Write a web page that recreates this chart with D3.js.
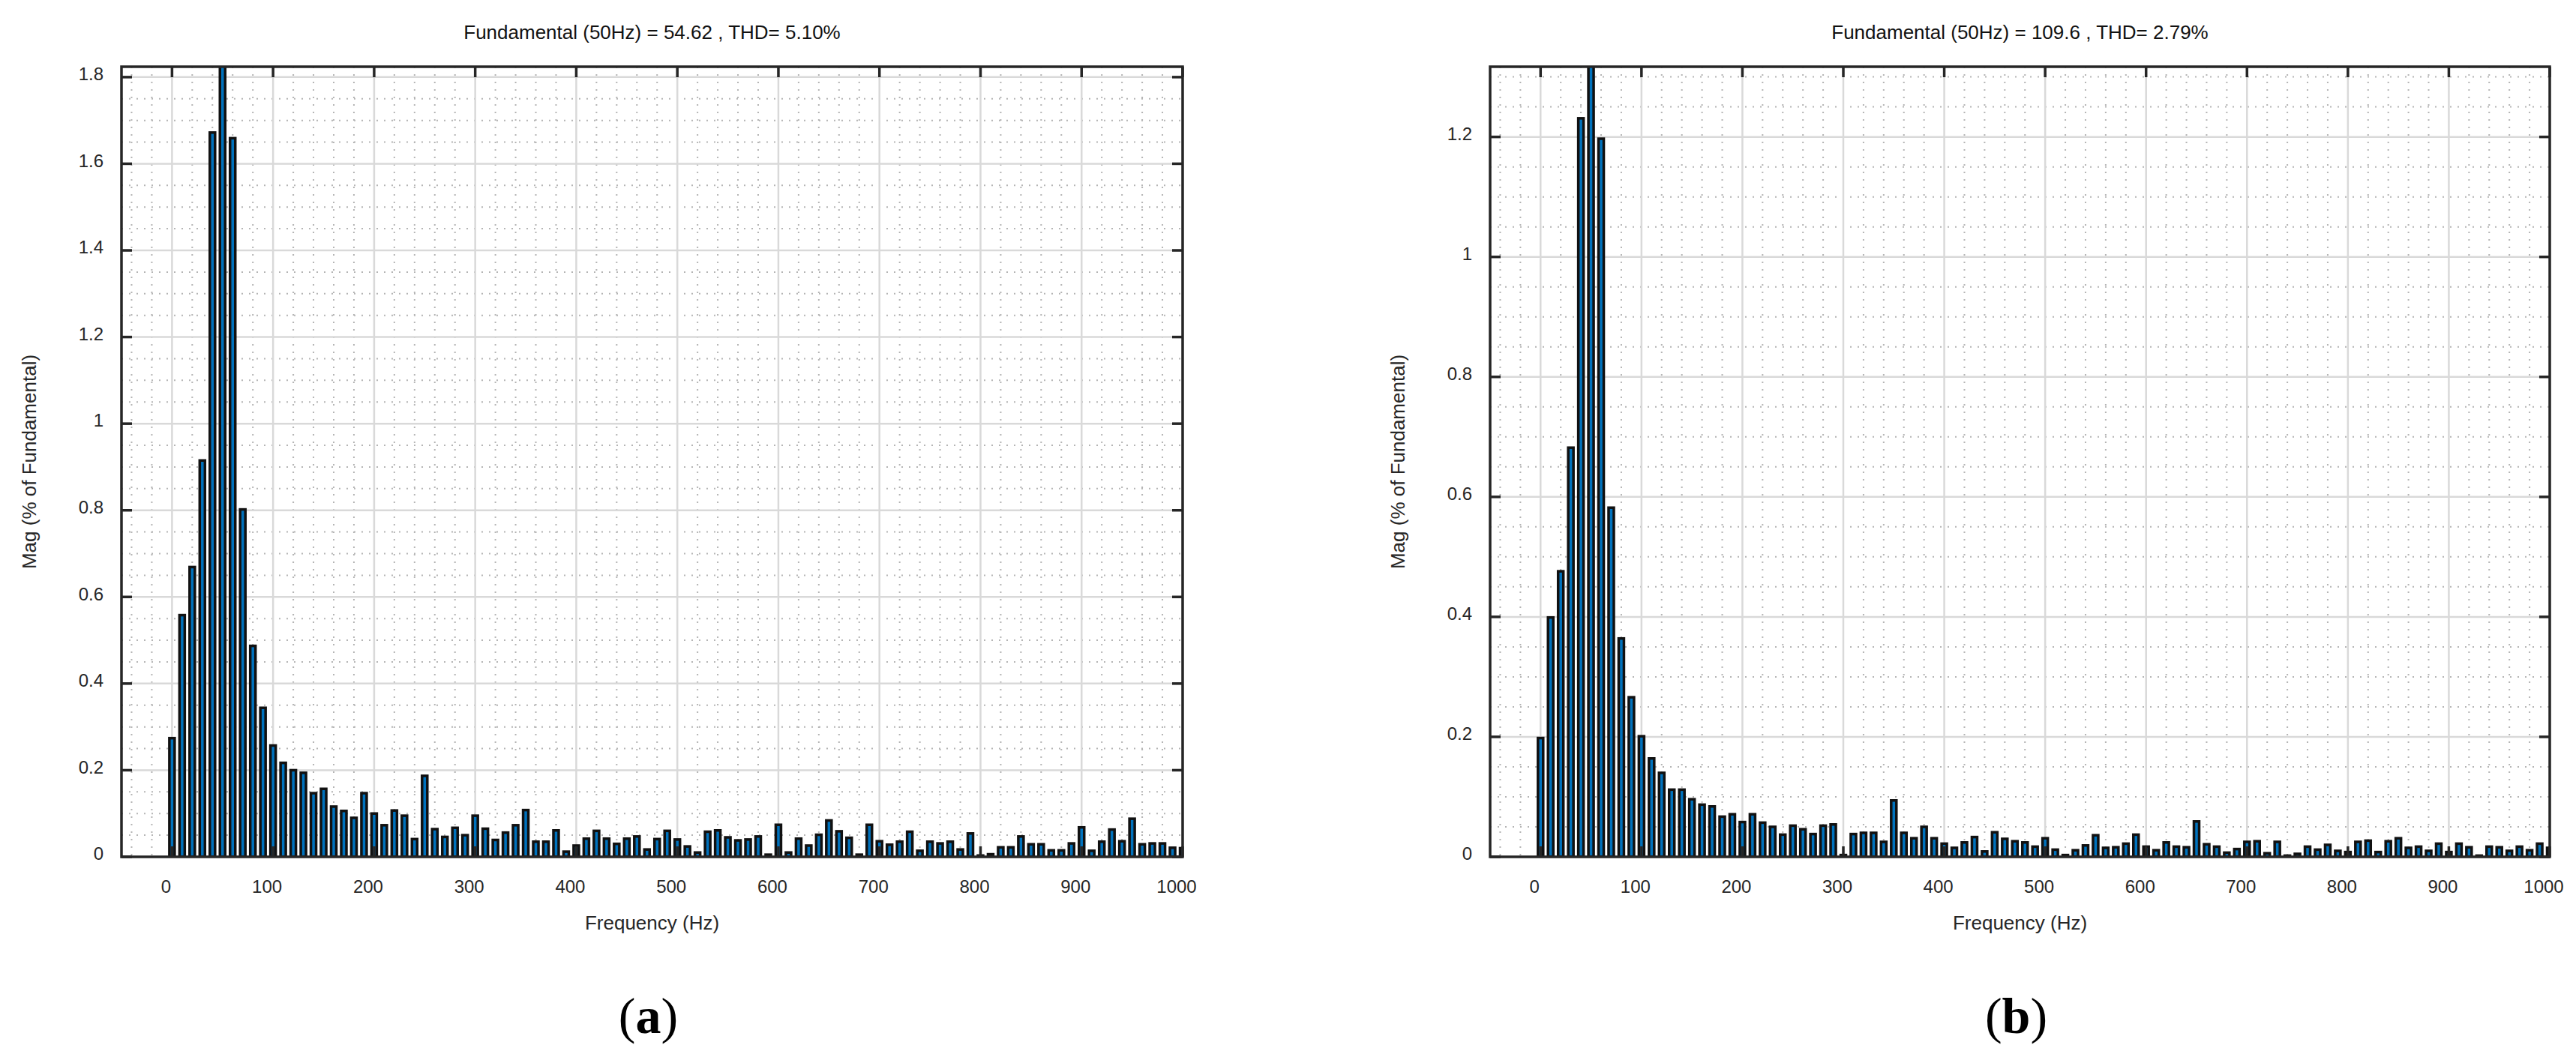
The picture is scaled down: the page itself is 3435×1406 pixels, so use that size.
<!DOCTYPE html>
<html>
<head>
<meta charset="utf-8">
<script src="https://cdn.jsdelivr.net/npm/d3@7"></script>
<style>
  body { margin: 0; background: #fff; }
  svg { font-family: "Liberation Sans", Arial, sans-serif; }
</style>
</head>
<body>
<svg id="chart" width="3435" height="1406"></svg>
<script>
// harmonic frequencies, 0..1000 Hz step 10
const freqs = d3.range(0, 1001, 10);

// panel (a) magnitudes, % of fundamental (fundamental bar clipped at top)
const magA = [
  0.274, 0.558, 0.669, 0.915, 1.672, 100, 1.659, 0.802, 0.487, 0.344,
  0.257, 0.217, 0.200, 0.194, 0.147, 0.157, 0.116, 0.106, 0.090, 0.147,
  0.100, 0.073, 0.107, 0.095, 0.041, 0.187, 0.064, 0.046, 0.067, 0.050,
  0.095, 0.065, 0.039, 0.056, 0.073, 0.108, 0.035, 0.035, 0.061, 0.012,
  0.026, 0.042, 0.060, 0.042, 0.030, 0.042, 0.047, 0.017, 0.041, 0.060,
  0.040, 0.024, 0.010, 0.058, 0.061, 0.045, 0.038, 0.040, 0.047, 0.005,
  0.074, 0.010, 0.042, 0.026, 0.051, 0.084, 0.059, 0.044, 0.005, 0.074,
  0.036, 0.028, 0.035, 0.058, 0.014, 0.035, 0.031, 0.035, 0.017, 0.054,
  0.003, 0.006, 0.022, 0.022, 0.047, 0.029, 0.029, 0.015, 0.015, 0.031,
  0.068, 0.014, 0.035, 0.063, 0.036, 0.088, 0.029, 0.031, 0.031, 0.021,
  0.020
];

// panel (b) magnitudes
const magB = [
  0.198, 0.399, 0.476, 0.682, 1.231, 100, 1.197, 0.582, 0.364, 0.266,
  0.201, 0.164, 0.140, 0.112, 0.112, 0.096, 0.087, 0.084, 0.067, 0.071,
  0.058, 0.071, 0.057, 0.050, 0.037, 0.052, 0.046, 0.038, 0.052, 0.054,
  0.003, 0.038, 0.040, 0.040, 0.025, 0.094, 0.040, 0.031, 0.050, 0.031,
  0.022, 0.015, 0.024, 0.033, 0.009, 0.041, 0.030, 0.026, 0.024, 0.017,
  0.031, 0.012, 0.003, 0.011, 0.019, 0.036, 0.015, 0.016, 0.022, 0.037,
  0.017, 0.011, 0.024, 0.017, 0.016, 0.059, 0.021, 0.017, 0.007, 0.013,
  0.025, 0.026, 0.006, 0.025, 0.002, 0.005, 0.017, 0.012, 0.020, 0.010,
  0.008, 0.025, 0.027, 0.008, 0.026, 0.031, 0.015, 0.017, 0.010, 0.022,
  0.008, 0.022, 0.016, 0.002, 0.017, 0.016, 0.010, 0.017, 0.011, 0.022,
  0.015
];

const xTicks = d3.range(0, 1001, 100);
const yTicksA = [0, 0.2, 0.4, 0.6, 0.8, 1, 1.2, 1.4, 1.6, 1.8];
const yTicksB = [0, 0.2, 0.4, 0.6, 0.8, 1, 1.2];

const panels = [
  { title: "Fundamental (50Hz) = 54.62 , THD= 5.10%", label: "(a)", mags: magA,
    yMax: 1.824, yTicks: yTicksA, left: 162, right: 1577 },
  { title: "Fundamental (50Hz) = 109.6 , THD= 2.79%", label: "(b)", mags: magB,
    yMax: 1.317, yTicks: yTicksB, left: 1987, right: 3400 }
];

const plotTop = 89, plotBottom = 1143;
const svg = d3.select("#chart");

panels.forEach((p, pi) => {
  const x = d3.scaleLinear().domain([-50, 1000]).range([p.left, p.right]);
  const y = d3.scaleLinear().domain([0, p.yMax]).range([plotBottom, plotTop]);
  const g = svg.append("g");

  const clipId = "clip" + pi;
  g.append("clipPath").attr("id", clipId)
    .append("rect")
    .attr("x", p.left).attr("y", plotTop)
    .attr("width", p.right - p.left).attr("height", plotBottom - plotTop);

  // minor grid (dotted)
  const minorX = d3.range(-40, 1000, 20).filter(v => v % 100 !== 0);
  const minorY = d3.range(0.05, p.yMax, 0.05).filter(v => Math.abs(v / 0.2 - Math.round(v / 0.2)) > 0.01);
  g.append("g").selectAll("line").data(minorX).join("line")
    .attr("x1", d => x(d)).attr("x2", d => x(d))
    .attr("y1", plotTop).attr("y2", plotBottom)
    .attr("stroke", "#b5b5b5").attr("stroke-width", 2).attr("stroke-dasharray", "2,8");
  g.append("g").selectAll("line").data(minorY).join("line")
    .attr("x1", p.left).attr("x2", p.right)
    .attr("y1", d => y(d)).attr("y2", d => y(d))
    .attr("stroke", "#b5b5b5").attr("stroke-width", 2).attr("stroke-dasharray", "2,8");

  // major grid
  g.append("g").selectAll("line").data(xTicks).join("line")
    .attr("x1", d => x(d)).attr("x2", d => x(d))
    .attr("y1", plotTop).attr("y2", plotBottom)
    .attr("stroke", "#d9d9d9").attr("stroke-width", 2.5);
  g.append("g").selectAll("line").data(p.yTicks).join("line")
    .attr("x1", p.left).attr("x2", p.right)
    .attr("y1", d => y(d)).attr("y2", d => y(d))
    .attr("stroke", "#d9d9d9").attr("stroke-width", 2.5);

  // bars
  const bw = x(5.2) - x(0);
  g.append("g").attr("clip-path", `url(#${clipId})`)
    .selectAll("rect").data(freqs).join("rect")
    .attr("x", d => x(d) - bw / 2)
    .attr("y", (d, i) => y(Math.min(p.mags[i], p.yMax + 0.1)))
    .attr("width", bw)
    .attr("height", (d, i) => plotBottom - y(Math.min(p.mags[i], p.yMax + 0.1)))
    .attr("fill", "#0072bd")
    .attr("stroke", "#111").attr("stroke-width", 3.5);

  // box
  g.append("rect")
    .attr("x", p.left).attr("y", plotTop)
    .attr("width", p.right - p.left).attr("height", plotBottom - plotTop)
    .attr("fill", "none").attr("stroke", "#262626").attr("stroke-width", 3.5);

  // inward ticks
  const tl = 14;
  g.append("g").selectAll("line").data(xTicks).join("line")
    .attr("x1", d => x(d)).attr("x2", d => x(d))
    .attr("y1", plotTop).attr("y2", plotTop + tl)
    .attr("stroke", "#262626").attr("stroke-width", 3.5);
  g.append("g").selectAll("line").data(xTicks).join("line")
    .attr("x1", d => x(d)).attr("x2", d => x(d))
    .attr("y1", plotBottom).attr("y2", plotBottom - tl)
    .attr("stroke", "#262626").attr("stroke-width", 3.5);
  g.append("g").selectAll("line").data(p.yTicks).join("line")
    .attr("x1", p.left).attr("x2", p.left + tl)
    .attr("y1", d => y(d)).attr("y2", d => y(d))
    .attr("stroke", "#262626").attr("stroke-width", 3.5);
  g.append("g").selectAll("line").data(p.yTicks).join("line")
    .attr("x1", p.right).attr("x2", p.right - tl)
    .attr("y1", d => y(d)).attr("y2", d => y(d))
    .attr("stroke", "#262626").attr("stroke-width", 3.5);

  // tick labels
  g.append("g").selectAll("text").data(xTicks).join("text")
    .attr("x", d => x(d) - 8).attr("y", plotBottom + 48)
    .attr("text-anchor", "middle").attr("font-size", 24).attr("fill", "#262626")
    .text(d => d);
  g.append("g").selectAll("text").data(p.yTicks).join("text")
    .attr("x", p.left - 24).attr("y", d => y(d) - 2)
    .attr("text-anchor", "end").attr("dominant-baseline", "middle")
    .attr("font-size", 24).attr("fill", "#262626")
    .text(d => d);

  // title and axis labels
  g.append("text")
    .attr("x", (p.left + p.right) / 2).attr("y", 52)
    .attr("text-anchor", "middle").attr("font-size", 26).attr("fill", "#111")
    .text(p.title);
  g.append("text")
    .attr("x", (p.left + p.right) / 2).attr("y", 1240)
    .attr("text-anchor", "middle").attr("font-size", 26).attr("fill", "#262626")
    .text("Frequency (Hz)");
  g.append("text")
    .attr("transform", `translate(${p.left - 114},${(plotTop + plotBottom) / 2}) rotate(-90)`)
    .attr("text-anchor", "middle").attr("font-size", 26).attr("fill", "#262626")
    .text("Mag (% of Fundamental)");

  // panel letter
  const lt = g.append("text")
    .attr("x", (p.left + p.right) / 2 - 5).attr("y", 1378)
    .attr("text-anchor", "middle").attr("font-size", 68)
    .attr("font-family", "'Liberation Serif', 'DejaVu Serif', serif");
  lt.append("tspan").text("(");
  lt.append("tspan").attr("font-weight", "bold").text(p.label.slice(1, -1));
  lt.append("tspan").text(")");
});
</script>
</body>
</html>
